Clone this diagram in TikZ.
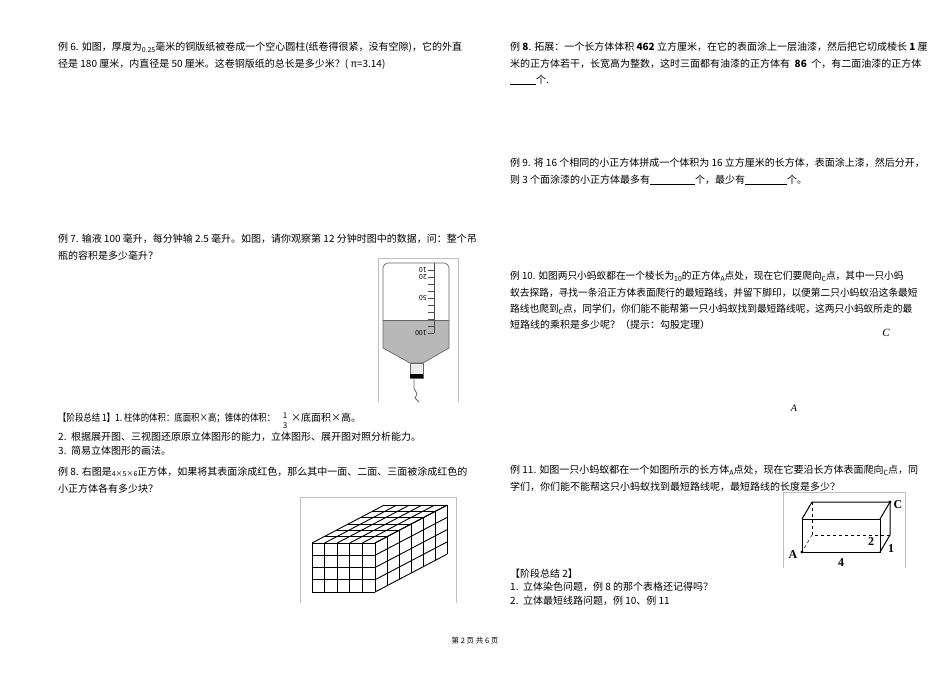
\documentclass[tikz,border=0pt]{standalone}
\usepackage{fontspec}
\setmainfont{Noto Sans CJK SC}
\newfontfamily\serifb{Liberation Serif}
\begin{document}
\begin{tikzpicture}[x=1pt,y=-1pt,
  tx/.style={anchor=west,inner sep=0pt,font=\fontsize{10}{11}\selectfont},
  fig/.style={draw=black!25,line width=0.6pt},
  lbl/.style={inner sep=0pt,font=\serifb\bfseries\fontsize{12}{12}\selectfont}]
\useasboundingbox (0,0) rectangle (950,672);
\fill[white] (0,0) rectangle (950,672);
% left column
\node[tx] (a1) at (58,47) {例 6. 如图，厚度为\raisebox{-2pt}{\scriptsize 0.25}毫米的铜版纸被卷成一个空心圆柱(纸卷得很紧，没有空隙)，它的外直};
\node[tx] (a2) at (58,64) {径是 180 厘米，内直径是 50 厘米。这卷铜版纸的总长是多少米？( π=3.14)};
\node[tx] (b1) at (58,239) {例 7. 输液 100 毫升，每分钟输 2.5 毫升。如图，请你观察第 12 分钟时图中的数据，问：整个吊};
\node[tx] (b2) at (58,256) {瓶的容积是多少毫升？};
% bottle
\draw[fig] (378,403) -- (378,258) -- (458,258) -- (458,403);
\fill[black!28] (383,320) -- (449,320) -- (449,348) -- (423,363) -- (410,363) -- (383,348) -- cycle;
\draw[black!60,line width=0.7pt] (383,348) -- (383,268) to[out=90,in=180] (388,263) -- (444,263) to[out=0,in=90] (449,268) -- (449,348) -- (423,363) -- (410,363) -- cycle;
\draw[black!60] (383,320) -- (449,320);
\draw[black!60,fill=black!8] (410,363) rectangle (423,378);
\fill[black] (410,374) rectangle (423,378);
\draw[black!60,line width=0.8pt] (414,378) -- (414,388) -- (417,394) -- (415,398) -- (419,402);
\draw[black!70] (434,263) -- (434,333);
\foreach \i in {1,...,10} \draw[black!70] (434,{263+7*\i}) -- (428,{263+7*\i});
\foreach \v/\y in {10/270,20/277,50/298,100/333}
  \node[rotate=180,inner sep=0pt,font=\fontsize{7}{7}\selectfont,anchor=west] at (427,\y) {\v};
\node[tx] (c1) at (58,418) {\scalebox{0.84}[1]{【阶段总结 1】1.\ 柱体的体积：底面积×高；锥体的体积：}};
\node[inner sep=0pt,font=\fontsize{8}{9}\selectfont,align=center] (fr) at (285,421) {1\\[1pt]3};
\node[tx] (c1b) at (291,418) {×底面积×高。};
\node[tx] (c2) at (58,437) {2.\ \ 根据展开图、三视图还原原立体图形的能力，立体图形、展开图对照分析能力。};
\node[tx] (c3) at (58,451) {3.\ \ 简易立体图形的画法。};
\node[tx] (d1) at (58,472) {例 8. 右图是\raisebox{-1pt}{\scriptsize 4×5×6}正方体，如果将其表面涂成红色，那么其中一面、二面、三面被涂成红色的};
\node[tx] (d2) at (58,489) {小正方体各有多少块？};
% cube
\draw[fig] (300,603) -- (300,497) -- (456,497) -- (456,603);
\begin{scope}[line width=0.9pt]
\def\cw{12.6}\def\ch{12.25}\def\dx{12}\def\dy{-6.3}
\foreach \i in {0,...,5} \draw (312+\i*\cw,543) -- (312+\i*\cw,592);
\foreach \j in {0,...,4} \draw (312,543+\j*\ch) -- (375,543+\j*\ch);
\foreach \k in {0,...,6} {
  \draw (312+\k*\dx,543+\k*\dy) -- (375+\k*\dx,543+\k*\dy);
  \draw (375+\k*\dx,543+\k*\dy) -- (375+\k*\dx,592+\k*\dy);}
\foreach \i in {0,...,5} \draw (312+\i*\cw,543) -- (312+\i*\cw+6*\dx,543+6*\dy);
\foreach \j in {0,...,4} \draw (375,543+\j*\ch) -- (375+6*\dx,543+\j*\ch+6*\dy);
\end{scope}
% right column
\node[tx] (e1) at (510,47) {例 \textbf{8}. 拓展：一个长方体体积 \textbf{462} 立方厘米，在它的表面涂上一层油漆，然后把它切成棱长 \textbf{1} 厘};
\node[tx] (e2) at (510,64) {米的正方体若干，长宽高为整数，这时三面都有油漆的正方体有 \ \textbf{86}\ \ 个，有二面油漆的正方体};
\node[tx] (e3) at (510,80) {\underline{\hspace{26pt}}个.};
\node[tx] (f1) at (510,163) {例 9. 将 16 个相同的小正方体拼成一个体积为 16 立方厘米的长方体，表面涂上漆，然后分开，};
\node[tx] (f2) at (510,180) {则 3 个面涂漆的小正方体最多有\underline{\hspace{45pt}}个，最少有\underline{\hspace{42pt}}个。};
\node[tx] (g1) at (510,276) {\scalebox{0.97}[1]{例 10. 如图两只小蚂蚁都在一个棱长为\raisebox{-2pt}{\scriptsize 10}的正方体\raisebox{-2pt}{\scriptsize\itshape A}点处，现在它们要爬向\raisebox{-2pt}{\scriptsize\itshape C}点，其中一只小蚂}};
\node[tx] (g2) at (510,293) {\scalebox{0.97}[1]{蚁去探路，寻找一条沿正方体表面爬行的最短路线，并留下脚印，以便第二只小蚂蚁沿这条最短}};
\node[tx] (g3) at (510,309) {\scalebox{0.97}[1]{路线也爬到\raisebox{-2pt}{\scriptsize\itshape C}点，同学们，你们能不能帮第一只小蚂蚁找到最短路线呢，这两只小蚂蚁所走的最}};
\node[tx] (g4) at (510,325) {短路线的乘积是多少呢？（提示：勾股定理）};
\node[inner sep=0pt,font=\serifb\itshape\fontsize{11}{11}\selectfont] (pc) at (886,333) {C};
\node[inner sep=0pt,font=\serifb\itshape\fontsize{10}{10}\selectfont] (pa) at (794,408) {A};
\node[tx] (h1) at (510,470) {例 11. 如图一只小蚂蚁都在一个如图所示的长方体\raisebox{-2pt}{\scriptsize\itshape A}点处，现在它要沿长方体表面爬向\raisebox{-2pt}{\scriptsize\itshape C}点，同};
\node[tx] (h2) at (510,487) {学们，你们能不能帮这只小蚂蚁找到最短路线呢，最短路线的长度是多少？};
% box
\draw[fig] (783,568) -- (783,492) -- (905,492) -- (905,568);
\begin{scope}[line width=1pt]
\draw (802,519) rectangle (880,552);
\draw (802,519) -- (812,502) -- (890,502) -- (880,519);
\draw (880,552) -- (890,535) -- (890,502);
\draw[dashed,line width=0.5pt] (812,502) -- (812,535) -- (890,535);
\draw[dashed,line width=0.5pt] (812,535) -- (802,552);
\fill (802,552) circle (1.6pt) (890,502) circle (1.6pt);
\end{scope}
\node[lbl] (bc) at (898,505) {C};
\node[lbl] (ba) at (793,555) {A};
\node[lbl] (b2) at (871,542) {2};
\node[lbl] (b1) at (891,549) {1};
\node[lbl] (b4) at (841,563) {4};
\node[tx] (i1) at (510,574) {【阶段总结 2】};
\node[tx] (i2) at (510,587) {1.\ \ 立体染色问题，例 8 的那个表格还记得吗？};
\node[tx] (i3) at (510,601) {2.\ \ 立体最短线路问题，例 10、例 11};
\node[inner sep=0pt,font=\fontsize{7.5}{8}\selectfont] (ft) at (475,641) {第 2 页 共 6 页};
\end{tikzpicture}
\end{document}
